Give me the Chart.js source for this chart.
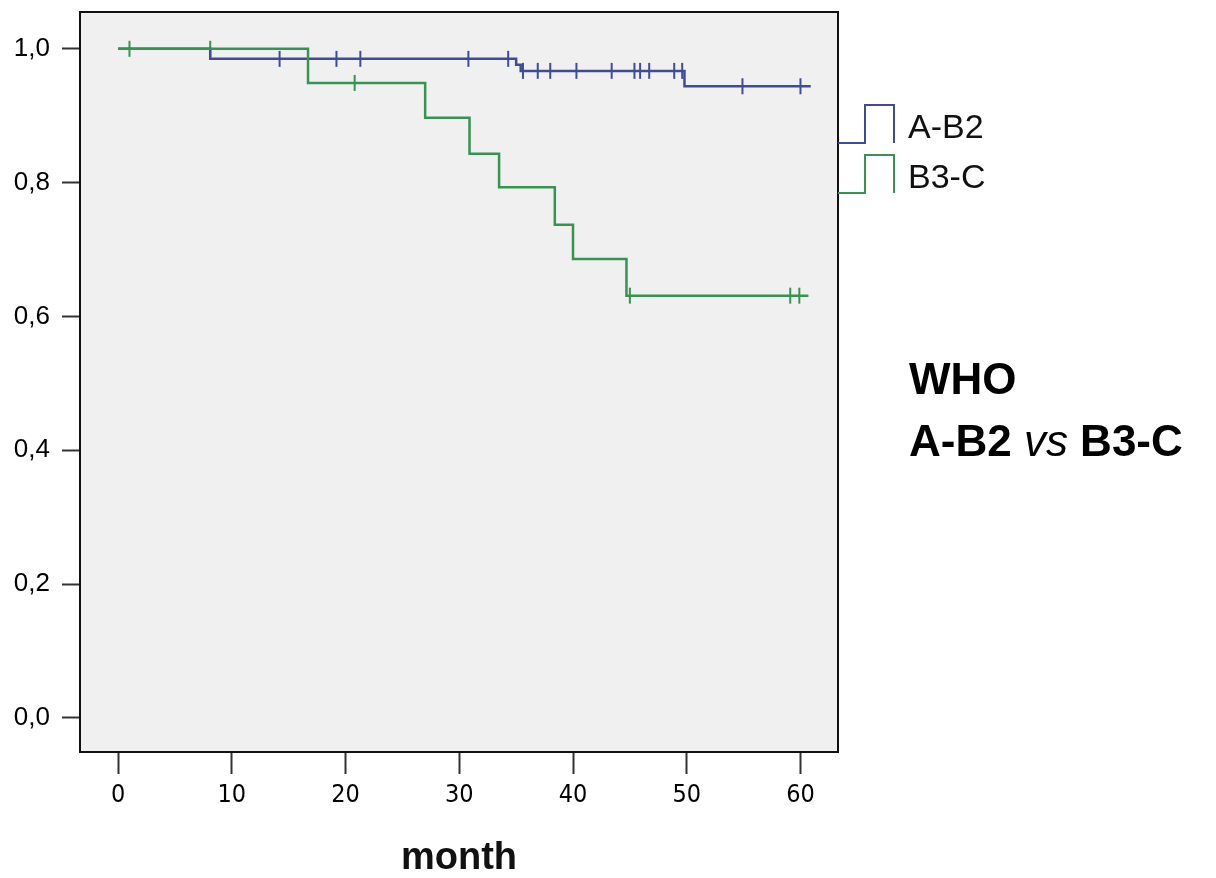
<!DOCTYPE html>
<html>
<head>
<meta charset="utf-8">
<script src="https://cdn.jsdelivr.net/npm/chart.js@4/dist/chart.umd.min.js"></script>
<style>
  body { margin: 0; background: #fff; }
  #wrap { width: 1216px; height: 878px; }
</style>
</head>
<body>
<div id="wrap"><canvas id="km"></canvas></div>
<script>
  // Kaplan-Meier steps: time of event (month) and survival after it
  var abTimes = [0, 8.1, 35.0, 35.4, 49.8, 60.9]
  var abSurv = [1.0, 0.985, 0.976, 0.967, 0.944, 0.944]
  var abCensored = [14.2, 19.2, 21.3, 30.8, 34.3, 35.6, 36.9, 38.0, 40.3, 43.4, 45.4, 45.9, 46.7, 48.9, 49.6, 54.9, 60.0]

  var bcTimes = [0, 16.7, 27.0, 30.9, 33.5, 38.4, 40.0, 44.7, 60.7]
  var bcSurv = [1.0, 0.949, 0.897, 0.843, 0.793, 0.737, 0.686, 0.631, 0.631]
  var bcCensored = [1.0, 8.1, 20.8, 45.0, 59.1, 59.9]

  var xTicks = [0, 10, 20, 30, 40, 50, 60]
  var yTicks = [0, 0.2, 0.4, 0.6, 0.8, 1.0]

  var blue = '#3e4c98'
  var green = '#35944f'

  function steps (times, surv) {
    return times.map(function (t, i) { return { x: t, y: surv[i] } })
  }

  function survAt (times, surv, t) {
    var s = surv[0]
    for (var i = 0; i < times.length; i++) {
      if (times[i] <= t) s = surv[i]
    }
    return s
  }

  function censorPoints (cens, times, surv) {
    return cens.map(function (t) { return { x: t, y: survAt(times, surv, t) } })
  }

  var frame = {
    id: 'frame',
    beforeDraw: function (chart) {
      var c = chart.ctx
      var a = chart.chartArea
      c.save()
      c.fillStyle = '#fff'
      c.fillRect(0, 0, chart.width, chart.height)
      c.fillStyle = '#f0f0f0'
      c.fillRect(a.left, a.top, a.right - a.left, a.bottom - a.top)
      c.restore()
    },
    afterDraw: function (chart) {
      var c = chart.ctx
      var a = chart.chartArea
      c.save()
      c.strokeStyle = '#111'
      c.lineWidth = 2
      c.strokeRect(a.left, a.top, a.right - a.left, a.bottom - a.top)

      // legend with step icons
      var items = [[blue, 'A-B2', 143], [green, 'B3-C', 193]]
      c.lineWidth = 2
      c.font = '34px "Liberation Sans", Arial, sans-serif'
      c.textBaseline = 'middle'
      items.forEach(function (it) {
        var base = it[2]
        c.strokeStyle = it[0]
        c.beginPath()
        c.moveTo(a.right, base)
        c.lineTo(a.right + 27, base)
        c.lineTo(a.right + 27, base - 38)
        c.lineTo(a.right + 56, base - 38)
        c.lineTo(a.right + 56, base)
        c.stroke()
        c.fillStyle = '#111'
        c.fillText(it[1], a.right + 70, base - 14)
      })

      // annotation
      c.fillStyle = '#000'
      c.textBaseline = 'alphabetic'
      c.font = 'bold 44px "Liberation Sans", Arial, sans-serif'
      c.fillText('WHO', 909, 394)
      var x = 909
      c.fillText('A-B2 ', x, 456)
      x += c.measureText('A-B2 ').width
      c.font = 'italic 44px "Liberation Sans", Arial, sans-serif'
      c.fillText('vs', x, 456)
      x += c.measureText('vs ').width
      c.font = 'bold 44px "Liberation Sans", Arial, sans-serif'
      c.fillText('B3-C', x, 456)
      c.restore()
    }
  }

  var ctx = document.getElementById('km')
  // eslint-disable-next-line no-unused-vars
  var kmChart = new Chart(ctx, {
    type: 'line',
    data: {
      datasets: [{
        label: 'B3-C',
        data: steps(bcTimes, bcSurv),
        stepped: true,
        borderColor: green,
        borderWidth: 2.5,
        pointRadius: 0,
        fill: false
      }, {
        label: 'A-B2',
        data: steps(abTimes, abSurv),
        stepped: true,
        borderColor: blue,
        borderWidth: 2.5,
        pointRadius: 0,
        fill: false
      }, {
        label: 'B3-C censored',
        data: censorPoints(bcCensored, bcTimes, bcSurv),
        showLine: false,
        pointStyle: 'line',
        rotation: 90,
        pointRadius: 8,
        borderColor: green,
        borderWidth: 2
      }, {
        label: 'A-B2 censored',
        data: censorPoints(abCensored, abTimes, abSurv),
        showLine: false,
        pointStyle: 'line',
        rotation: 90,
        pointRadius: 8,
        borderColor: blue,
        borderWidth: 2
      }]
    },
    options: {
      responsive: true,
      maintainAspectRatio: false,
      animation: false,
      layout: { padding: { left: 0, top: 12, right: 378, bottom: 0 } },
      plugins: {
        legend: { display: false },
        tooltip: { enabled: false }
      },
      scales: {
        x: {
          type: 'linear',
          min: -3.35,
          max: 63.3,
          afterBuildTicks: function (axis) {
            axis.ticks = xTicks.map(function (v) { return { value: v } })
          },
          afterFit: function (axis) {
            axis.height = 126
            axis.paddingLeft = 0
            axis.paddingRight = 0
          },
          border: { display: false },
          grid: { drawOnChartArea: false, tickLength: 22, tickWidth: 2, tickColor: '#333' },
          ticks: {
            padding: 6,
            color: '#000',
            font: { family: '"DejaVu Sans Condensed", "Liberation Sans Narrow", sans-serif', size: 25 }
          },
          title: {
            display: true,
            text: 'month',
            color: '#111',
            padding: { top: 0, bottom: -3 },
            font: { family: '"Liberation Sans", Arial, sans-serif', size: 38, weight: 'bold' }
          }
        },
        y: {
          type: 'linear',
          min: -0.051,
          max: 1.055,
          afterBuildTicks: function (axis) {
            axis.ticks = yTicks.map(function (v) { return { value: v } })
          },
          afterFit: function (axis) {
            axis.width = 80
            axis.paddingTop = 0
            axis.paddingBottom = 0
          },
          border: { display: false },
          grid: { drawOnChartArea: false, tickLength: 18, tickWidth: 2, tickColor: '#333' },
          ticks: {
            padding: 12,
            color: '#000',
            font: { family: '"Liberation Sans", Arial, sans-serif', size: 26 },
            callback: function (v) { return v.toFixed(1).replace('.', ',') }
          }
        }
      }
    },
    plugins: [frame]
  })
</script>
</body>
</html>
